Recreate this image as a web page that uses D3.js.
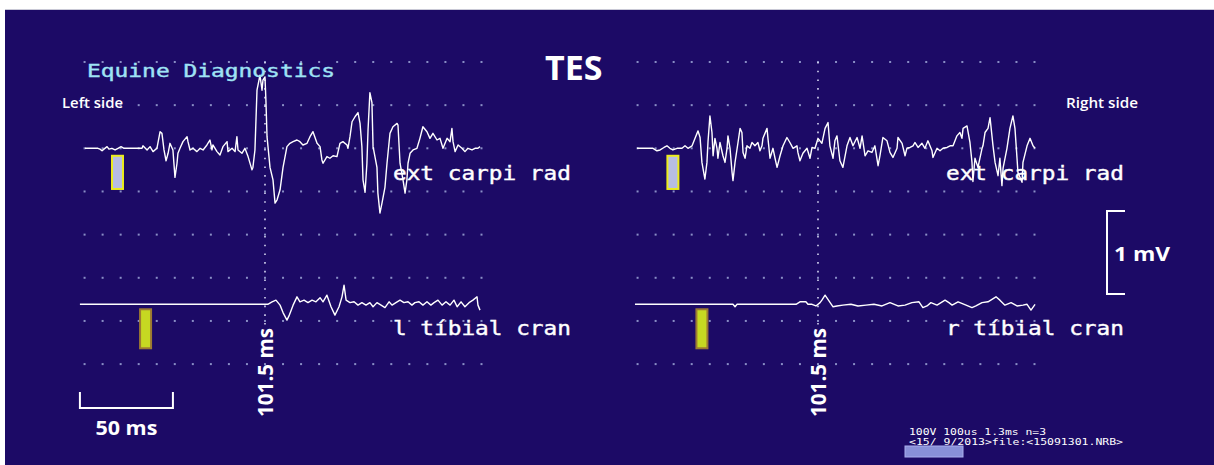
<!DOCTYPE html>
<html><head><meta charset="utf-8">
<script src="https://cdn.jsdelivr.net/npm/d3@7"></script>
<style>body{margin:0;background:#fff}svg{display:block}</style>
</head><body>
<svg id="c" width="1214" height="465"></svg>
<script>
// ---- data (time in ms, amplitude in mV) ----
const leftUpper = [[4.7,0],[11.7,0],[12.8,-0.01],[13.9,-0.03],[14.9,-0.01],[16.6,0.02],[17.6,-0.01],[19.2,0],[20.9,-0.02],[22.5,0],[24.1,0.02],[25.7,0],[28.9,0],[35.4,0],[35.9,0.03],[38.1,-0.02],[39.7,0.02],[41.3,-0.04],[43.4,0],[45.1,0.20],[46.1,0.18],[47.2,-0.02],[48.3,-0.15],[49.4,-0.06],[50.4,0.06],[52.0,-0.02],[53.1,-0.35],[54.2,-0.18],[54.7,-0.06],[55.8,0],[57.4,0.08],[59.6,0.14],[60.1,0.08],[61.2,-0.02],[62.8,0],[64.9,-0.04],[66.6,0],[68.2,-0.02],[70.3,0.04],[71.9,0.10],[73.0,-0.02],[73.5,0.04],[75.7,-0.04],[77.3,-0.08],[78.9,0.02],[81.1,0.08],[81.6,-0.04],[83.8,0],[85.4,-0.04],[86.4,0.14],[87.0,-0.02],[89.1,-0.06],[90.7,0],[92.4,-0.10],[94.5,-0.26],[95.0,-0.23],[96.1,-0.02],[97.2,0.70],[98.8,0.88],[99.9,0.70],[100.4,0.82],[101.5,0.86],[102.0,0.58],[102.6,0.14],[104.2,-0.23],[105.8,-0.38],[106.9,-0.66],[108.0,-0.62],[109.6,-0.50],[111.2,-0.23],[113.3,0.02],[114.9,0.06],[116.6,0.08],[118.7,0.10],[120.3,0.08],[121.9,0.04],[124.1,0.06],[125.7,0.14],[127.3,0.20],[129.5,0.06],[131.1,0.02],[132.1,-0.14],[132.7,-0.18],[134.8,-0.10],[136.4,-0.12],[138.1,-0.09],[140.2,-0.10],[141.8,0.06],[143.4,0.08],[145.6,0.04],[146.1,0],[147.2,0.14],[148.3,0.32],[149.9,0.38],[151.5,0.43],[152.6,0.30],[153.6,0.02],[154.2,-0.38],[155.3,-0.53],[156.3,-0.18],[156.9,0.22],[157.9,0.67],[159.0,0.55],[159.6,0.02],[161.7,-0.23],[162.2,-0.54],[163.3,-0.78],[164.4,-0.66],[166.0,-0.47],[167.1,-0.18],[168.7,0.18],[170.3,0.26],[172.5,0.30],[173.0,0.28],[174.1,-0.18],[175.7,-0.38],[176.8,-0.54],[177.8,-0.38],[178.4,-0.18],[179.5,-0.06],[181.1,-0.02],[183.2,0],[184.8,0.12],[186.4,0.26],[188.6,0.20],[190.2,0.12],[191.8,0.18],[194.0,0.10],[195.6,0.12],[197.2,0],[199.4,0.12],[201.0,0.08],[202.0,0.24],[202.6,0.08],[203.7,-0.04],[205.3,0.04],[207.4,0],[209.0,-0.04],[210.6,0],[212.8,-0.02],[214.4,0],[216.0,0],[217.1,0.02]];

const rightUpper = [[4.2,0],[12.8,0],[14.9,-0.03],[16.6,-0.02],[18.7,0.01],[20.3,0.03],[21.9,0],[23.5,-0.02],[25.7,0],[28.4,0],[30.0,0.03],[31.6,0],[33.8,0.03],[35.4,0.12],[37.0,0.21],[38.1,0.13],[39.1,-0.17],[40.7,-0.37],[41.8,-0.17],[42.4,0.09],[43.4,0.39],[44.5,0.19],[45.1,-0.09],[46.1,0.12],[47.2,0],[47.7,-0.12],[48.8,0.07],[50.4,-0.09],[51.5,-0.17],[52.6,0],[53.1,0.15],[54.2,0],[55.3,-0.29],[55.8,-0.39],[56.9,-0.17],[58.5,0.07],[59.6,0.24],[60.6,0.19],[61.2,-0.05],[62.3,-0.12],[63.3,0.03],[64.9,0],[66.0,0.07],[67.6,0.03],[69.2,0.07],[70.3,-0.03],[71.4,0.03],[71.9,0.12],[74.1,0.24],[74.6,0.12],[75.7,-0.12],[77.3,0],[78.4,-0.12],[79.5,-0.23],[81.1,-0.09],[82.7,0.03],[84.8,0.13],[86.4,0.07],[88.1,0],[90.2,0.03],[90.7,-0.05],[91.8,-0.15],[93.4,-0.06],[95.6,0],[97.2,-0.12],[98.3,0.01],[99.9,0],[101.5,0.12],[103.6,0.06],[105.3,0.24],[106.9,0.31],[107.9,0.03],[109.6,-0.12],[110.6,0.09],[111.7,0.15],[113.3,-0.15],[114.9,-0.23],[117.1,0.03],[118.7,0.13],[120.3,0.03],[122.5,0.13],[124.1,0],[125.2,0.15],[126.8,-0.09],[128.4,-0.03],[130.5,-0.05],[132.1,0.03],[133.8,-0.21],[134.8,-0.09],[136.4,0.13],[138.6,0.09],[140.2,-0.05],[141.8,-0.11],[144.0,0],[144.5,0.13],[146.7,0.06],[148.3,-0.09],[149.3,0],[151.0,0.01],[152.6,0.03],[153.6,0.07],[155.3,0.01],[157.4,0.06],[159.0,0],[160.6,0.09],[162.8,-0.03],[163.3,-0.11],[165.5,0],[167.1,-0.03],[168.7,0],[170.9,0.01],[172.5,0.03],[174.1,0.03],[176.2,0.15],[177.8,0.19],[178.9,0.12],[179.5,0.24],[181.6,0.27],[183.2,0.07],[184.3,-0.17],[184.8,-0.40],[185.9,-0.12],[187.5,-0.23],[189.7,0],[190.2,0.03],[191.3,0.19],[192.9,0.24],[194.0,0.37],[195.6,0.03],[196.7,-0.17],[198.3,-0.33],[199.3,-0.12],[200.4,-0.45],[201.0,-0.24],[203.1,0],[204.7,0.24],[206.3,0.39],[207.4,0.24],[208.5,-0.12],[209.0,-0.29],[211.2,-0.41],[211.7,-0.17],[213.9,0.03],[215.5,0.12],[217.1,0.03],[218.2,0]];

const leftLower = [[2.0,0],[103.0,0],[105.3,0.03],[107.4,0.05],[109.6,-0.01],[111.2,-0.10],[113.3,-0.19],[114.4,-0.14],[116.6,-0.01],[118.7,0.09],[120.3,0.03],[122.5,0.05],[124.6,0.02],[126.8,0.05],[128.9,0.03],[131.1,0.08],[132.7,0.03],[134.8,0.11],[137.0,-0.03],[139.1,-0.13],[141.3,-0.03],[142.9,0.09],[144.0,0.23],[145.1,0.05],[147.2,0.02],[149.4,0.03],[151.5,-0.01],[153.6,0.02],[155.8,-0.01],[157.9,0.02],[159.6,-0.03],[161.7,0.02],[163.9,-0.01],[166.0,-0.04],[168.2,0.03],[169.8,-0.01],[171.9,0.02],[174.1,0.05],[176.2,0.02],[178.4,0.03],[180.5,-0.01],[182.1,0.02],[184.3,0.03],[186.4,-0.01],[188.6,0.03],[190.7,-0.01],[192.4,0.02],[194.5,0.05],[196.7,-0.01],[198.8,0.03],[201.0,-0.01],[203.1,0.05],[204.8,-0.03],[206.9,0.03],[209.0,-0.03],[211.2,0.02],[213.3,0.05],[215.5,0.09],[216.0,-0.01],[217.1,-0.07]];

const rightLower = [[3.1,0],[55.8,0],[56.9,-0.03],[58.0,0],[89.7,0],[91.8,0.03],[95.0,0.03],[96.1,0],[98.3,0],[100.4,-0.02],[102.6,0.02],[103.6,0.05],[105.3,0.11],[107.4,0.04],[109.6,-0.03],[111.7,-0.02],[114.9,-0.01],[119.2,0],[123.0,-0.02],[127.3,-0.01],[131.6,0],[135.9,-0.02],[140.2,0.02],[144.5,-0.02],[148.3,-0.01],[152.0,0.02],[155.8,0.03],[157.9,-0.04],[160.1,-0.02],[162.2,0.02],[165.5,-0.01],[169.8,0.05],[171.9,0.02],[173.6,-0.01],[176.8,0.03],[181.1,-0.01],[184.3,-0.04],[186.4,-0.02],[189.7,0.02],[192.9,0.03],[197.2,0.09],[199.3,0.05],[202.0,-0.01],[205.3,0.02],[208.5,-0.02],[211.7,-0.01],[213.9,0],[216.0,-0.07],[218.2,0]];

const upperLabels = ["ext carpi rad", "ext carpi rad"];
const lowerLabels = ["l tíbial cran", "r tíbial cran"];
const sideLabels = ["Left side", "Right side"];
const cursorMs = 101.5;
const stimUpper = [22.2, 23.5];   // ms
const stimLower = [37.3, 39.1];   // ms
const stimUpperRange = [-0.49, -0.09]; // mV
const stimLowerRange = [-0.53, -0.06]; // mV
const gridStepMs = 9.7, gridStepMv = 0.52;
const timeBarMs = [2, 52];        // 50 ms
const voltBarMv = 1;
const infoLines = ["100V 100us 1.3ms n=3", "<15/ 9/2013>file:<15091301.NRB>"];

// ---- layout ----
const svg = d3.select("#c");
const BG = "#1c0a66";
svg.append("rect").attr("x",5).attr("y",10).attr("width",1209).attr("height",455).attr("fill",BG);
svg.append("line").attr("x1",5).attr("x2",1214).attr("y1",9.5).attr("y2",9.5).attr("stroke","#c9c9d6").attr("stroke-width",1);

const pxPerMs = 1.86, pxPerMv = 83;
const origins = [76.2, 629.2];
const xs = origins.map(o => d3.scaleLinear().domain([0,220]).range([o, o + 220*pxPerMs]));
const yU = d3.scaleLinear().domain([0,1]).range([148.3, 148.3 - pxPerMv]);
const yL = d3.scaleLinear().domain([0,1]).range([304.3, 304.3 - pxPerMv]);

// grid dots
const colT = d3.range(23).map(k => cursorMs + (k-10)*gridStepMs);
const rowV = d3.range(8).map(k => 2*gridStepMv - k*gridStepMv);
xs.forEach((x, p) => {
  const g = svg.append("g");
  rowV.forEach(v => {
    g.selectAll(null).data(colT).join("rect")
      .attr("x", d => x(d)-1).attr("y", yU(v)-1).attr("width",2).attr("height",2)
      .attr("fill","#8a8fc6");
  });
  svg.append("line").attr("x1", x(cursorMs)).attr("x2", x(cursorMs))
    .attr("y1", yU(rowV[0])).attr("y2", yU(-2.13))
    .attr("stroke","#d4d4f0").attr("stroke-width",1.6).attr("stroke-dasharray","1.6 7.1");
});

// stimulus markers
xs.forEach((x, p) => {
  svg.append("rect").attr("x", x(stimUpper[p]) - 5.5).attr("width", 11)
    .attr("y", yU(stimUpperRange[1])).attr("height", yU(stimUpperRange[0]) - yU(stimUpperRange[1]))
    .attr("fill","#b7bde2").attr("stroke","#ecec1c").attr("stroke-width",2);
  svg.append("rect").attr("x", x(stimLower[p]) - 5.5).attr("width", 11)
    .attr("y", yL(stimLowerRange[1])).attr("height", yL(stimLowerRange[0]) - yL(stimLowerRange[1]))
    .attr("fill","#c6d822").attr("stroke","#9c7a32").attr("stroke-width",2);
});

// channel labels
const mono = "'DejaVu Sans Mono', monospace";
xs.forEach((x, p) => {
  svg.append("text").attr("x", x(170.3)).attr("y", yU(-0.38))
    .attr("font-family", mono).attr("font-size", 20).attr("fill","#fff").attr("stroke","#fff").attr("stroke-width",0.4)
    .attr("textLength", 178).attr("lengthAdjust","spacingAndGlyphs").text(upperLabels[p]);
  svg.append("text").attr("x", x(170.3)).attr("y", yL(-0.37))
    .attr("font-family", mono).attr("font-size", 20).attr("fill","#fff").attr("stroke","#fff").attr("stroke-width",0.4)
    .attr("textLength", 178).attr("lengthAdjust","spacingAndGlyphs").text(lowerLabels[p]);
});

// traces
const line = (x, y) => d3.line().x(d => x(d[0])).y(d => y(d[1]));
[[leftUpper,0,yU],[rightUpper,1,yU],[leftLower,0,yL],[rightLower,1,yL]].forEach(([data,p,y]) => {
  svg.append("path").datum(data).attr("d", line(xs[p], y))
    .attr("fill","none").attr("stroke","#fff").attr("stroke-width",1.4).attr("stroke-linejoin","round");
});

// titles
const sans = "'Open Sans', sans-serif";
svg.append("text").attr("x",87).attr("y",77).attr("font-family", mono).attr("font-size",18)
  .attr("fill","#9fe3f5").attr("stroke","#9fe3f5").attr("stroke-width",0.4)
  .attr("textLength",248).attr("lengthAdjust","spacingAndGlyphs").text("Equine Diagnostics");
svg.append("text").attr("x",545).attr("y",80).attr("font-family", sans).attr("font-weight",700)
  .attr("font-size",34).attr("fill","#fff").text("TES");
svg.append("text").attr("x",62).attr("y",108).attr("font-family", sans).attr("font-weight",600).attr("font-size",14)
  .attr("fill","#fff").attr("textLength",61).attr("lengthAdjust","spacingAndGlyphs").text(sideLabels[0]);
svg.append("text").attr("x",1066).attr("y",108).attr("font-family", sans).attr("font-weight",600).attr("font-size",14)
  .attr("fill","#fff").attr("textLength",72).attr("lengthAdjust","spacingAndGlyphs").text(sideLabels[1]);

// cursor labels
xs.forEach(x => {
  svg.append("text").attr("transform", `translate(${x(cursorMs)+8},417) rotate(-90)`)
    .attr("font-family", sans).attr("font-weight",700).attr("font-size",21).attr("fill","#fff")
    .attr("textLength",89).attr("lengthAdjust","spacingAndGlyphs").text(`${cursorMs} ms`);
});

// 50 ms scale bar
svg.append("path")
  .attr("d", `M${xs[0](timeBarMs[0])},392 V408 H${xs[0](timeBarMs[1])} V392`)
  .attr("fill","none").attr("stroke","#fff").attr("stroke-width",2);
svg.append("text").attr("x", (xs[0](timeBarMs[0])+xs[0](timeBarMs[1]))/2).attr("y",435)
  .attr("text-anchor","middle").attr("font-family", sans).attr("font-weight",700).attr("font-size",19)
  .attr("fill","#fff").attr("textLength",62).attr("lengthAdjust","spacingAndGlyphs").text(`${timeBarMs[1]-timeBarMs[0]} ms`);

// 1 mV scale bar
const vTop = 211, vBot = vTop + (yU(0) - yU(voltBarMv));
svg.append("path").attr("d", `M1125,${vTop} H1107 V${vBot} H1125`)
  .attr("fill","none").attr("stroke","#fff").attr("stroke-width",2);
svg.append("text").attr("x",1114).attr("y",261).attr("font-family", sans).attr("font-weight",700)
  .attr("font-size",19).attr("fill","#fff").attr("textLength",56).attr("lengthAdjust","spacingAndGlyphs")
  .text(`${voltBarMv} mV`);

// info text
svg.append("text").attr("x",909).attr("y",435).attr("font-family", mono).attr("font-size",8)
  .attr("fill","#fff").attr("textLength",137).attr("lengthAdjust","spacingAndGlyphs").text(infoLines[0]);
svg.append("text").attr("x",909).attr("y",444.5).attr("font-family", mono).attr("font-size",8)
  .attr("fill","#fff").attr("textLength",214).attr("lengthAdjust","spacingAndGlyphs").text(infoLines[1]);
svg.append("rect").attr("x",905).attr("y",446).attr("width",58).attr("height",11)
  .attr("fill","#8990d8").attr("stroke","#a9aeee").attr("stroke-width",1);
</script>
</body></html>
